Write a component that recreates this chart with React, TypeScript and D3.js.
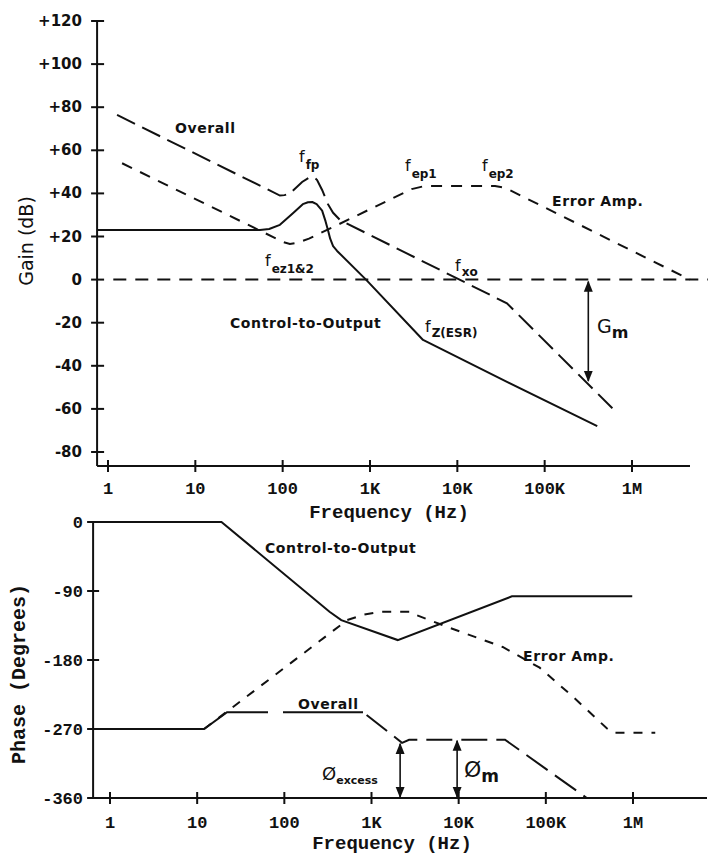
import React from "react";
import * as d3 from "d3";

// ---------- data ----------
const freqTicks = [1, 10, 100, 1e3, 1e4, 1e5, 1e6];
const freqTickLabels = ["1", "10", "100", "1K", "10K", "100K", "1M"];
const gainTicks = [120, 100, 80, 60, 40, 20, 0, -20, -40, -60, -80];
const gainTickLabels = ["+120", "+100", "+80", "+60", "+40", "+20", "0", "-20", "-40", "-60", "-80"];
const phaseTicks = [0, -90, -180, -270, -360];
const phaseTickLabels = ["0", "-90", "-180", "-270", "-360"];

// Gain plot (Hz, dB)
const ctoGainFreq = [0.75, 55, 70, 93, 131, 170, 195, 218, 245, 283, 310, 330, 350, 378, 420, 900, 4050, 37000, 400000];
const ctoGainDb = [23, 23, 23.5, 25.4, 30.8, 35, 35.9, 36, 35, 32, 27, 23, 19, 15.5, 13.3, 0, -28, -47.5, -68];

const overallGainFreq = [1.27, 93, 105, 121, 167, 205, 230, 248, 283, 330, 378, 455, 37000, 680000];
const overallGainDb = [76.4, 39, 39.2, 40, 45.3, 47.6, 47.4, 46.2, 41.6, 35, 31, 27.6, -11, -62];

const errGainFreq = [1.45, 80, 100, 121, 145, 200, 3000, 4000, 4800, 27000, 33000, 40000, 4.6e6];
const errGainDb = [54, 19.5, 17.5, 16.5, 17, 19, 42, 43.2, 43.4, 43.4, 42.8, 41.5, 0];

const zeroLineFreq = [1.15, 8e6];
const zeroLineDb = [0, 0];

const gmFreq = 316000;
const gmTopDb = 0;
const gmBottomDb = -47;

// Phase plot (Hz, degrees)
const ctoPhaseFreq = [0.64, 19, 330, 450, 2000, 40800, 980000];
const ctoPhaseDeg = [0, 0, -117, -128, -154, -97, -97];

const errPhaseFreq = [12, 525, 800, 1250, 2800, 3200, 7900, 32000, 85000, 205000, 500000, 600000, 1.8e6];
const errPhaseDeg = [-270, -128, -121, -117, -117, -121, -138, -163, -190, -228, -269, -275, -275];

const overallPhaseFreq = [0.64, 12, 22, 800, 2240, 2700, 34000, 295000];
const overallPhaseDeg = [-270, -270, -248, -248, -288, -284, -284, -360];

const excessFreq = 2130;
const excessTopDeg = -288;
const marginFreq = 9600;
const marginTopDeg = -284;
const phaseBottomDeg = -360;

// ---------- layout ----------
const W = 708;
const H = 857;
const xTop = d3.scaleLog().domain([1, 1e6]).range([108, 632]);
const yTop = d3.scaleLinear().domain([-80, 120]).range([452, 21]);
const xBot = d3.scaleLog().domain([1, 1e6]).range([110, 633]);
const yBot = d3.scaleLinear().domain([-360, 0]).range([798, 522]);

const INK = "#111";
const sansB = "'DejaVu Sans', sans-serif";
const mono = "'Liberation Mono', 'Courier New', monospace";

function path(xs: any, ys: any, fx: number[], fy: number[], curve: any = d3.curveLinear) {
  const idx = fx.map((_, i) => i);
  return (
    d3
      .line<number>()
      .x((i) => xs(fx[i]))
      .y((i) => ys(fy[i]))
      .curve(curve)(idx) || ""
  );
}

function Sub({ x, y, main, sub, mainSize = 16, subSize = 12, dx = 1, dy = 7 }: any) {
  return (
    <text x={x} y={y} fontFamily={sansB} fill={INK}>
      <tspan fontSize={mainSize}>{main}</tspan>
      <tspan fontSize={subSize} fontWeight="bold" dx={dx} dy={dy}>
        {sub}
      </tspan>
    </text>
  );
}

export default function App() {
  const topAxisX = xTop(0.75);
  const topAxisY = yTop(-86.5);
  const botAxisX = xBot(0.64);
  const botAxisY = yBot(-360);

  const annot = { fontFamily: sansB, fontSize: 14, fontWeight: "bold" as const, fill: INK, letterSpacing: 0.6 };

  return (
    <svg
      width={W}
      height={H}
      viewBox={`0 0 ${W} ${H}`}
      style={{ position: "absolute", left: 0, top: 0, background: "#fff" }}
    >
      <defs>
        <marker id="ah" viewBox="0 0 10 10" refX="9" refY="5" markerWidth="7" markerHeight="7" orient="auto-start-reverse">
          <path d="M0,1 L10,5 L0,9 z" fill={INK} />
        </marker>
        <clipPath id="clipA">
          <rect x={0} y={0} width={268} height={H} />
        </clipPath>
        <clipPath id="clipB">
          <rect x={283} y={0} width={80} height={H} />
        </clipPath>
        <clipPath id="clipC">
          <rect x={363} y={0} width={W} height={H} />
        </clipPath>
        <clipPath id="clipTop">
          <rect x={0} y={0} width={W} height={topAxisY} />
        </clipPath>
      </defs>
      <rect x={0} y={0} width={W} height={H} fill="#fff" />

      {/* ================= GAIN ================= */}
      <line x1={topAxisX} x2={topAxisX} y1={yTop(120)} y2={topAxisY} stroke={INK} strokeWidth={2} />
      <line x1={topAxisX} x2={690} y1={topAxisY} y2={topAxisY} stroke={INK} strokeWidth={2} />
      {gainTicks.map((t, i) => (
        <g key={"gt" + i}>
          <line x1={topAxisX - 6} x2={topAxisX + 7} y1={yTop(t)} y2={yTop(t)} stroke={INK} strokeWidth={2} />
          <text x={82} y={yTop(t) + 5} textAnchor="end" fontFamily={sansB} fontWeight="bold" fontSize={15} fill={INK}>
            {gainTickLabels[i]}
          </text>
        </g>
      ))}
      {freqTicks.map((t, i) => (
        <g key={"ft" + i}>
          <line x1={xTop(t)} x2={xTop(t)} y1={topAxisY - 6} y2={topAxisY + 6} stroke={INK} strokeWidth={2} />
          <text x={xTop(t)} y={494} textAnchor="middle" fontFamily={mono} fontWeight="bold" fontSize={17} fill={INK}>
            {freqTickLabels[i]}
          </text>
        </g>
      ))}
      <text x={389} y={518} textAnchor="middle" fontFamily={mono} fontWeight="bold" fontSize={19} fill={INK}>
        Frequency (Hz)
      </text>
      <text
        transform={`translate(33,241) rotate(-90)`}
        textAnchor="middle"
        fontFamily={sansB}
        fontSize={19}
        fill={INK}
      >
        Gain (dB)
      </text>

      <g clipPath="url(#clipTop)">
        <path d={path(xTop, yTop, zeroLineFreq, zeroLineDb)} fill="none" stroke={INK} strokeWidth={2} strokeDasharray="13,9" />
        <path d={path(xTop, yTop, ctoGainFreq, ctoGainDb)} fill="none" stroke={INK} strokeWidth={2} strokeLinejoin="round" />
        <path
          d={path(xTop, yTop, overallGainFreq, overallGainDb)}
          fill="none"
          stroke={INK}
          strokeWidth={2}
          strokeDasharray="20,8"
        />
        <path
          d={path(xTop, yTop, errGainFreq, errGainDb)}
          fill="none"
          stroke={INK}
          strokeWidth={2}
          strokeDasharray="11,9"
        />
      </g>
      <line
        x1={xTop(gmFreq)}
        x2={xTop(gmFreq)}
        y1={yTop(gmTopDb) + 2}
        y2={yTop(gmBottomDb)}
        stroke={INK}
        strokeWidth={1.6}
        markerStart="url(#ah)"
        markerEnd="url(#ah)"
      />

      <text x={175} y={133} {...annot}>Overall</text>
      <text x={230} y={328} {...annot}>Control-to-Output</text>
      <text x={552} y={206} {...annot}>Error Amp.</text>
      <Sub x={299} y={162} main="f" sub="fp" />
      <Sub x={265} y={266} main="f" sub="ez1&2" />
      <Sub x={405} y={171} main="f" sub="ep1" />
      <Sub x={482} y={171} main="f" sub="ep2" />
      <Sub x={455} y={271} main="f" sub="xo" dy={5} />
      <Sub x={425} y={332} main="f" sub="Z(ESR)" dy={5} />
      <Sub x={597} y={333} main="G" sub="m" mainSize={19} subSize={16} dx={0} dy={5} />

      {/* ================= PHASE ================= */}
      <line x1={botAxisX} x2={botAxisX} y1={yBot(0)} y2={botAxisY} stroke={INK} strokeWidth={2} />
      <line x1={botAxisX} x2={707} y1={botAxisY} y2={botAxisY} stroke={INK} strokeWidth={2} />
      {phaseTicks.map((t, i) => (
        <g key={"pt" + i}>
          <line x1={botAxisX - 6} x2={botAxisX + 6} y1={yBot(t)} y2={yBot(t)} stroke={INK} strokeWidth={2} />
          <text x={83} y={yBot(t) + 6} textAnchor="end" fontFamily={mono} fontWeight="bold" fontSize={17} fill={INK}>
            {phaseTickLabels[i]}
          </text>
        </g>
      ))}
      {freqTicks.map((t, i) => (
        <g key={"fb" + i}>
          <line x1={xBot(t)} x2={xBot(t)} y1={botAxisY - 6} y2={botAxisY + 6} stroke={INK} strokeWidth={2} />
          <text x={xBot(t)} y={828} textAnchor="middle" fontFamily={mono} fontWeight="bold" fontSize={17} fill={INK}>
            {freqTickLabels[i]}
          </text>
        </g>
      ))}
      <text x={392} y={849} textAnchor="middle" fontFamily={mono} fontWeight="bold" fontSize={19} fill={INK}>
        Frequency (Hz)
      </text>
      <text
        transform={`translate(25,674) rotate(-90)`}
        textAnchor="middle"
        fontFamily={mono}
        fontWeight="bold"
        fontSize={20}
        fill={INK}
      >
        Phase (Degrees)
      </text>

      <path d={path(xBot, yBot, ctoPhaseFreq, ctoPhaseDeg)} fill="none" stroke={INK} strokeWidth={2} />
      <path
        d={path(xBot, yBot, errPhaseFreq, errPhaseDeg)}
        fill="none"
        stroke={INK}
        strokeWidth={2}
        strokeDasharray="9,9"
      />
      <path d={path(xBot, yBot, overallPhaseFreq, overallPhaseDeg)} fill="none" stroke={INK} strokeWidth={2} clipPath="url(#clipA)" />
      <path d={path(xBot, yBot, overallPhaseFreq, overallPhaseDeg)} fill="none" stroke={INK} strokeWidth={2} clipPath="url(#clipB)" />
      <path
        d={path(xBot, yBot, overallPhaseFreq, overallPhaseDeg)}
        fill="none"
        stroke={INK}
        strokeWidth={2}
        strokeDasharray="26,9"
        clipPath="url(#clipC)"
      />
      <line
        x1={xBot(excessFreq)}
        x2={xBot(excessFreq)}
        y1={yBot(excessTopDeg) + 1}
        y2={yBot(phaseBottomDeg) - 1}
        stroke={INK}
        strokeWidth={1.6}
        markerStart="url(#ah)"
        markerEnd="url(#ah)"
      />
      <line
        x1={xBot(marginFreq)}
        x2={xBot(marginFreq)}
        y1={yBot(marginTopDeg) + 1}
        y2={yBot(phaseBottomDeg) - 1}
        stroke={INK}
        strokeWidth={1.6}
        markerStart="url(#ah)"
        markerEnd="url(#ah)"
      />

      <text x={265} y={553} {...annot}>Control-to-Output</text>
      <text x={523} y={661} {...annot}>Error Amp.</text>
      <text x={298} y={709} {...annot}>Overall</text>
      <Sub x={322} y={780} main="Ø" sub="excess" mainSize={18} subSize={11} dx={0} dy={4} />
      <Sub x={464} y={777} main="Ø" sub="m" mainSize={22} subSize={17} dx={0} dy={5} />
    </svg>
  );
}
